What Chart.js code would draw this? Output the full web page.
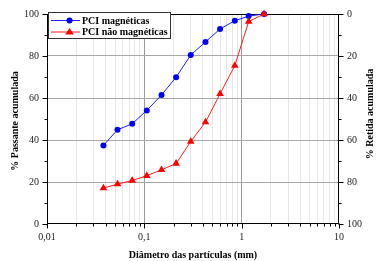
<!DOCTYPE html>
<html>
<head>
<meta charset="utf-8">
<script src="https://cdn.jsdelivr.net/npm/chart.js@4"></script>
<style>
  html, body { margin: 0; padding: 0; background: #fff; }
  #wrap { width: 383px; height: 261px; }
</style>
</head>
<body>
<div id="wrap"><canvas id="chart"></canvas></div>
<script>
// sieve openings (mm)
const sizes = [0.038, 0.053, 0.075, 0.106, 0.150, 0.212, 0.300, 0.425, 0.600, 0.850, 1.18, 1.70];
// % passing
const magneticas = [37.4, 44.9, 47.7, 54.1, 61.4, 69.9, 80.5, 86.7, 92.9, 96.8, 99.0, 100];
const naoMagneticas = [17.1, 19.0, 20.7, 23.0, 25.8, 28.8, 39.3, 48.5, 62.0, 75.4, 96.4, 100];

const xTicks = [
  0.01, 0.02, 0.03, 0.04, 0.05, 0.06, 0.07, 0.08, 0.09,
  0.1, 0.2, 0.3, 0.4, 0.5, 0.6, 0.7, 0.8, 0.9,
  1, 2, 3, 4, 5, 6, 7, 8, 9, 10
];
const xMajor = [0.01, 0.1, 1, 10];
const xMajorLabels = ['0,01', '0,1', '1', '10'];
const yTicks = [0, 20, 40, 60, 80, 100];
const yMinor = [10, 30, 50, 70, 90];

const FONT = "'Liberation Serif', 'Times New Roman', serif";

const isMajorX = v => xMajor.some(m => Math.abs(m - v) < 1e-9);

function vTitle(ctx, text, x, y) {
  ctx.save();
  ctx.font = 'bold 10px ' + FONT;
  ctx.fillStyle = '#000';
  ctx.textAlign = 'center';
  ctx.textBaseline = 'middle';
  ctx.translate(x, y);
  ctx.rotate(-Math.PI / 2);
  ctx.fillText(text, 0, 0);
  ctx.restore();
}

// frame, outward tick marks, side titles and the boxed legend
const framePlugin = {
  id: 'frame',
  beforeDatasetsDraw(chart) {
    const { ctx, chartArea: a, scales } = chart;
    const L = Math.round(a.left) + 0.5, R = Math.round(a.right) - 0.5;
    const T = Math.round(a.top) + 0.5, B = Math.round(a.bottom) - 0.5;
    ctx.save();
    ctx.strokeStyle = '#000';
    ctx.lineWidth = 1;
    ctx.strokeRect(L, T, R - L, B - T);
    ctx.beginPath();
    xTicks.forEach(v => {
      const px = Math.round(scales.x.getPixelForValue(v)) + 0.5;
      ctx.moveTo(px, B);
      ctx.lineTo(px, B + (isMajorX(v) ? 5 : 3));
    });
    yTicks.concat(yMinor).forEach(v => {
      const len = yTicks.includes(v) ? 5 : 3;
      const py = Math.round(scales.y.getPixelForValue(v)) + 0.5;
      ctx.moveTo(L, py); ctx.lineTo(L - len, py);
      const py2 = Math.round(scales.y2.getPixelForValue(v)) + 0.5;
      ctx.moveTo(R, py2); ctx.lineTo(R + len, py2);
    });
    ctx.stroke();
    ctx.restore();
  },
  afterDraw(chart) {
    const { ctx } = chart;
    vTitle(ctx, '% Passante acumulada', 15, 121);
    vTitle(ctx, '% Retida acumulada', 370, 114);

    const bx = 48.5, by = 12.5, bw = 122, bh = 26;
    ctx.save();
    ctx.fillStyle = '#fff';
    ctx.fillRect(bx, by, bw, bh);
    ctx.strokeStyle = '#333';
    ctx.lineWidth = 1;
    ctx.strokeRect(bx, by, bw, bh);
    ctx.font = 'bold 10px ' + FONT;
    ctx.textBaseline = 'middle';
    chart.data.datasets.forEach((ds, i) => {
      const y = 20.5 + i * 11.5;
      ctx.strokeStyle = ds.borderColor;
      ctx.beginPath();
      ctx.moveTo(51, y); ctx.lineTo(80, y);
      ctx.stroke();
      ctx.fillStyle = ds.backgroundColor;
      ctx.beginPath();
      if (ds.pointStyle === 'triangle') {
        ctx.moveTo(69.5, y - 4); ctx.lineTo(73.8, y + 2.5); ctx.lineTo(65.2, y + 2.5);
      } else {
        ctx.arc(69.5, y, 3, 0, Math.PI * 2);
      }
      ctx.fill();
      ctx.fillStyle = '#000';
      ctx.fillText(ds.label, 82, y + 0.5);
    });
    ctx.restore();
  }
};

new Chart(document.getElementById('chart'), {
  type: 'line',
  data: {
    datasets: [{
      label: 'PCI magnéticas',
      data: sizes.map((d, i) => ({ x: d, y: magneticas[i] })),
      borderColor: '#1f1fff',
      backgroundColor: '#0000ff',
      borderWidth: 1,
      pointStyle: 'circle',
      pointRadius: 3,
      pointBorderWidth: 0,
      clip: false,
      order: 1
    }, {
      label: 'PCI não magnéticas',
      data: sizes.map((d, i) => ({ x: d, y: naoMagneticas[i] })),
      borderColor: '#ff1f1f',
      backgroundColor: '#ff0000',
      borderWidth: 1,
      pointStyle: 'triangle',
      pointRadius: 4.4,
      pointBorderWidth: 0,
      clip: false,
      order: 0
    }]
  },
  options: {
    responsive: true,
    maintainAspectRatio: false,
    animation: false,
    layout: { padding: { top: 9 } },
    plugins: {
      legend: { display: false },
      tooltip: { enabled: false }
    },
    scales: {
      x: {
        type: 'logarithmic',
        min: 0.01,
        max: 10,
        afterBuildTicks: s => { s.ticks = xTicks.map(v => ({ value: v })); },
        afterFit: s => { s.height = 37; },
        border: { display: false },
        grid: {
          drawTicks: false,
          color: c => {
            const v = c.tick ? c.tick.value : 0;
            if (v <= 0.01 + 1e-9 || v >= 10 - 1e-9) return 'rgba(0,0,0,0)';
            return isMajorX(v) ? '#9a9a9a' : '#e6e6e6';
          }
        },
        ticks: {
          autoSkip: false,
          maxRotation: 0,
          padding: 7,
          color: '#222',
          font: { family: FONT, size: 10 },
          callback: v => {
            const k = xMajor.findIndex(m => Math.abs(m - v) < 1e-9);
            return k >= 0 ? xMajorLabels[k] : '';
          }
        },
        title: {
          display: true,
          text: 'Diâmetro das partículas (mm)',
          color: '#000',
          font: { family: FONT, size: 10, weight: 'bold' },
          padding: { top: 2, bottom: 0 }
        }
      },
      y: {
        position: 'left',
        min: 0,
        max: 100,
        afterBuildTicks: s => { s.ticks = yTicks.map(v => ({ value: v })); },
        afterFit: s => { s.width = 47; },
        border: { display: false },
        grid: {
          drawTicks: false,
          color: c => (c.tick && c.tick.value > 0 && c.tick.value < 100) ? '#a8a8a8' : 'rgba(0,0,0,0)'
        },
        ticks: {
          padding: 8,
          color: '#222',
          font: { family: FONT, size: 10 }
        }
      },
      y2: {
        position: 'right',
        reverse: true,
        min: 0,
        max: 100,
        afterBuildTicks: s => { s.ticks = yTicks.map(v => ({ value: v })); },
        afterFit: s => { s.width = 44; },
        border: { display: false },
        grid: { display: false, drawTicks: false },
        ticks: {
          padding: 8,
          color: '#222',
          font: { family: FONT, size: 10 }
        }
      }
    }
  },
  plugins: [framePlugin]
});
</script>
</body>
</html>
